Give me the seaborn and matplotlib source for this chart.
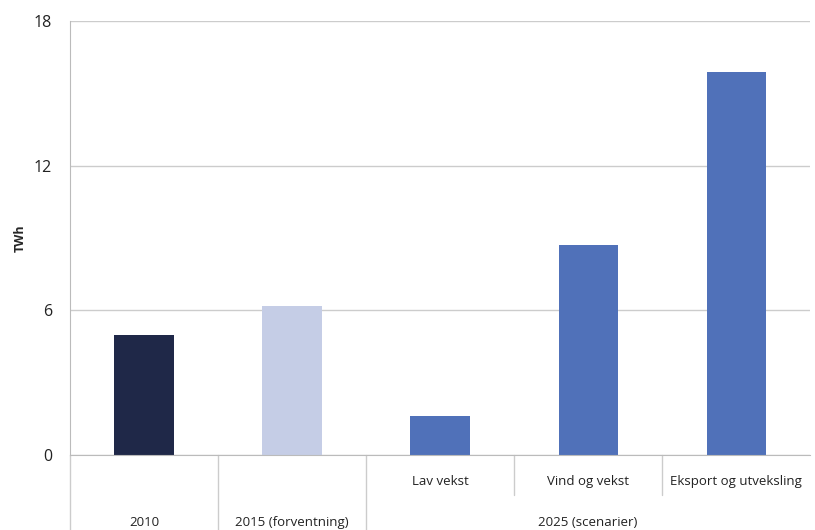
import matplotlib
matplotlib.use("Agg")
import matplotlib.pyplot as plt
import matplotlib.transforms as mtransforms
import seaborn as sns
import pandas as pd

# Data
categories = ["2010", "2015 (forventning)", "Lav vekst", "Vind og vekst", "Eksport og utveksling"]
sub_labels = ["", "", "Lav vekst", "Vind og vekst", "Eksport og utveksling"]
group_labels = ["2010", "2015 (forventning)", "2025 (scenarier)"]
group_spans = [(0, 0), (1, 1), (2, 4)]
values = [5.0, 6.2, 1.6, 8.7, 15.9]
y_ticks = [0, 6, 12, 18]
colors = ["#1f2848", "#c5cde6", "#5071b9", "#5071b9", "#5071b9"]

df = pd.DataFrame({"cat": categories, "val": values})

sns.set_style("white")
plt.rcParams["font.family"] = ["Open Sans", "DejaVu Sans"]

fig = plt.figure(figsize=(8.15, 5.3), dpi=100)
ax = fig.add_axes([0.086, 0.1415, 0.908, 0.8185])

sns.barplot(data=df, x="cat", y="val", hue="cat", palette=colors, legend=False,
            width=0.4, saturation=1, ax=ax, edgecolor="none")

ax.set_xlim(-0.5, len(categories) - 0.5)
ax.set_ylim(0, 18)
ax.set_yticks(y_ticks)
ax.set_yticklabels([str(t) for t in y_ticks], fontsize=11.5, color="#222222")
ax.tick_params(axis="y", length=5, color="#bbbbbb", pad=8)
ax.set_ylabel("TWh", fontsize=9, fontweight="bold", labelpad=5)
ax.yaxis.grid(True, color="#cccccc", linewidth=1)
ax.set_axisbelow(True)
ax.set_xticks([])
ax.set_xlabel("")
for s in ["top", "right"]:
    ax.spines[s].set_visible(False)
ax.spines["left"].set_color("#bbbbbb")
ax.spines["bottom"].set_color("#bbbbbb")

trans = mtransforms.blended_transform_factory(ax.transData, ax.transAxes)
# axes fraction per pixel
ppx = 1.0 / (0.8185 * 530)

# Sub labels row
for i, lab in enumerate(sub_labels):
    if lab:
        ax.text(i, -26 * ppx, lab, transform=trans, ha="center", va="center",
                fontsize=9.5, color="#222222", clip_on=False)
# Group labels row
for lab, (a, b) in zip(group_labels, group_spans):
    ax.text((a + b) / 2, -67 * ppx, lab, transform=trans, ha="center", va="center",
            fontsize=9.5, color="#222222", clip_on=False)

# Separator lines
group_edges = set()
for a, b in group_spans:
    group_edges.add(a - 0.5)
    group_edges.add(b + 0.5)
for k in range(len(categories)):
    x = k - 0.5
    y1 = -80 * ppx if x in group_edges else -40 * ppx
    ax.plot([x, x], [0, y1], transform=trans, color="#cccccc", linewidth=1, clip_on=False)

fig.savefig("out.png", dpi=100, facecolor="white")
